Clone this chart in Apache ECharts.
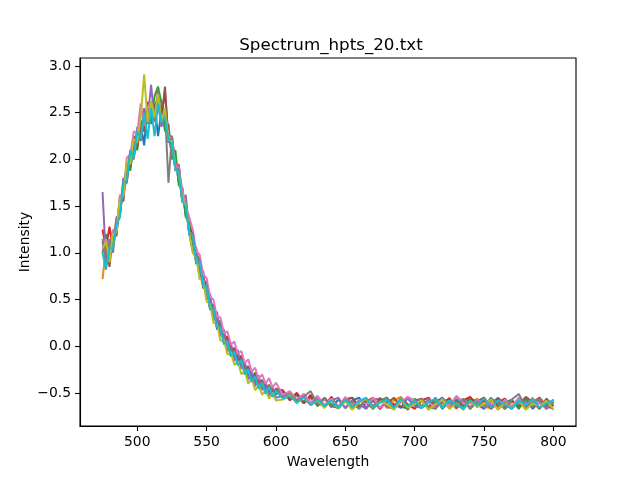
<!DOCTYPE html>
<html>
<head>
<meta charset="utf-8">
<script src="https://cdn.jsdelivr.net/npm/echarts@6/dist/echarts.min.js"></script>
<style>html,body{margin:0;padding:0;background:#fff}#c{width:640px;height:480px}</style>
</head>
<body>
<div id="c"></div>
<script>
const wavelength = [475,477.5,480,482.5,485,487.5,490,492.5,495,497.5,500,502.5,505,507.5,510,512.5,515,517.5,520,522.5,525,527.5,530,532.5,535,537.5,540,542.5,545,547.5,550,552.5,555,557.5,560,562.5,565,567.5,570,572.5,575,577.5,580,582.5,585,587.5,590,592.5,595,597.5,600,
605,610,615,620,625,630,635,640,645,650,655,660,665,670,675,680,685,690,695,700,705,710,715,720,725,730,735,740,745,750,755,760,765,770,775,780,785,790,795,800];

const s1 = [1.12,0.95,1.05,1.23,1.20,1.55,1.62,1.95,1.95,2.20,2.15,2.38,2.15,2.60,2.42,2.60,2.25,2.52,2.35,2.32,2.05,2.02,1.75,1.68,1.40,1.32,1.08,1.04,0.80,0.76,0.55,0.53,0.33,0.30,0.14,0.15,0.00,0.01,-0.12,-0.10,-0.21,-0.19,-0.32,-0.29,-0.39,-0.35,-0.45,-0.41,-0.49,-0.45,-0.51,
-0.48,-0.57,-0.50,-0.60,-0.53,-0.63,-0.56,-0.65,-0.57,-0.66,-0.58,-0.55,-0.66,-0.58,-0.67,-0.56,-0.62,-0.66,-0.55,-0.64,-0.58,-0.67,-0.60,-0.55,-0.66,-0.57,-0.64,-0.55,-0.62,-0.67,-0.57,-0.64,-0.56,-0.66,-0.60,-0.56,-0.67,-0.59,-0.64,-0.57];
const s2 = [0.72,1.05,0.98,1.10,1.35,1.45,1.75,1.80,2.08,2.05,2.30,2.25,2.48,2.40,2.62,2.45,2.58,2.40,2.45,2.20,2.18,1.90,1.85,1.55,1.52,1.22,1.18,0.92,0.90,0.68,0.65,0.42,0.40,0.22,0.20,0.05,0.08,-0.06,-0.05,-0.16,-0.15,-0.26,-0.24,-0.34,-0.33,-0.41,-0.38,-0.46,-0.44,-0.50,-0.47,
-0.55,-0.49,-0.59,-0.51,-0.62,-0.54,-0.64,-0.55,-0.66,-0.56,-0.63,-0.66,-0.56,-0.64,-0.55,-0.66,-0.58,-0.54,-0.65,-0.60,-0.56,-0.66,-0.57,-0.64,-0.55,-0.67,-0.58,-0.61,-0.56,-0.65,-0.66,-0.55,-0.62,-0.67,-0.57,-0.64,-0.55,-0.66,-0.58,-0.64];
const s3 = [1.00,1.20,0.92,1.18,1.22,1.58,1.60,1.95,1.88,2.15,2.10,2.42,2.30,2.50,2.40,2.68,2.78,2.60,2.30,2.38,2.00,2.10,1.72,1.70,1.38,1.35,1.22,0.90,0.97,0.66,0.70,0.39,0.45,0.20,0.28,0.04,0.11,-0.11,-0.02,-0.20,-0.10,-0.29,-0.21,-0.37,-0.28,-0.45,-0.36,-0.51,-0.41,-0.54,-0.45,
-0.50,-0.56,-0.52,-0.60,-0.54,-0.64,-0.56,-0.62,-0.65,-0.55,-0.67,-0.57,-0.60,-0.67,-0.58,-0.55,-0.65,-0.58,-0.68,-0.56,-0.64,-0.57,-0.66,-0.55,-0.64,-0.59,-0.67,-0.56,-0.59,-0.65,-0.55,-0.66,-0.60,-0.57,-0.67,-0.56,-0.64,-0.58,-0.66,-0.60];
const s4 = [1.25,1.05,1.28,1.05,1.30,1.42,1.72,1.78,2.05,2.08,2.28,2.20,2.52,2.38,2.58,2.42,2.62,2.48,2.72,2.22,2.25,1.95,1.92,1.58,1.55,1.25,1.22,0.95,0.92,0.70,0.68,0.45,0.42,0.25,0.22,0.08,0.10,-0.04,-0.02,-0.14,-0.13,-0.24,-0.22,-0.32,-0.30,-0.38,-0.37,-0.45,-0.42,-0.49,-0.46,
-0.47,-0.58,-0.50,-0.61,-0.52,-0.61,-0.64,-0.54,-0.65,-0.57,-0.55,-0.66,-0.59,-0.55,-0.67,-0.58,-0.64,-0.56,-0.62,-0.67,-0.58,-0.55,-0.65,-0.60,-0.56,-0.66,-0.58,-0.54,-0.65,-0.58,-0.67,-0.60,-0.56,-0.65,-0.58,-0.66,-0.60,-0.55,-0.64,-0.67];
const s5 = [1.65,0.92,1.12,1.05,1.38,1.42,1.80,1.78,2.10,2.02,2.35,2.22,2.55,2.42,2.80,2.40,2.62,2.35,2.52,2.18,2.25,1.88,1.95,1.55,1.62,1.20,1.02,1.06,0.73,0.81,0.50,0.56,0.28,0.37,0.11,0.18,-0.06,0.04,-0.16,-0.04,-0.24,-0.16,-0.36,-0.26,-0.43,-0.31,-0.47,-0.38,-0.53,-0.43,-0.55,
-0.53,-0.50,-0.58,-0.53,-0.62,-0.56,-0.64,-0.58,-0.55,-0.66,-0.58,-0.62,-0.67,-0.57,-0.56,-0.65,-0.67,-0.58,-0.56,-0.64,-0.66,-0.56,-0.64,-0.59,-0.66,-0.54,-0.60,-0.65,-0.57,-0.66,-0.61,-0.55,-0.64,-0.66,-0.56,-0.60,-0.65,-0.57,-0.66,-0.59];
const s6 = [1.08,1.12,0.85,1.22,1.18,1.60,1.55,1.95,1.92,2.25,2.12,2.40,2.30,2.62,2.38,2.55,2.68,2.42,2.78,2.18,2.22,1.90,1.88,1.55,1.52,1.20,1.18,0.88,0.92,0.62,0.68,0.40,0.44,0.18,0.24,0.02,0.08,-0.10,-0.02,-0.20,-0.10,-0.30,-0.22,-0.38,-0.30,-0.45,-0.36,-0.49,-0.42,-0.53,-0.46,
-0.49,-0.57,-0.52,-0.61,-0.55,-0.62,-0.55,-0.64,-0.66,-0.57,-0.55,-0.65,-0.59,-0.67,-0.56,-0.61,-0.55,-0.65,-0.66,-0.58,-0.56,-0.65,-0.55,-0.67,-0.59,-0.64,-0.56,-0.67,-0.59,-0.55,-0.65,-0.56,-0.67,-0.59,-0.64,-0.54,-0.60,-0.67,-0.56,-0.64];
const s7 = [1.02,1.15,0.98,1.25,1.22,1.62,1.60,2.02,2.05,2.30,2.28,2.60,2.36,2.55,2.62,2.45,2.58,2.40,2.50,2.25,2.22,1.95,1.90,1.68,1.50,1.38,1.25,1.02,0.98,0.77,0.73,0.53,0.50,0.31,0.31,0.14,0.16,0.02,0.05,-0.08,-0.05,-0.18,-0.14,-0.27,-0.23,-0.35,-0.30,-0.40,-0.34,-0.44,-0.39,
-0.52,-0.48,-0.57,-0.51,-0.60,-0.53,-0.63,-0.56,-0.65,-0.54,-0.66,-0.57,-0.62,-0.55,-0.66,-0.57,-0.67,-0.60,-0.54,-0.58,-0.65,-0.59,-0.67,-0.56,-0.64,-0.53,-0.60,-0.66,-0.57,-0.64,-0.60,-0.67,-0.57,-0.64,-0.55,-0.65,-0.57,-0.61,-0.67,-0.57];
const s8 = [1.15,0.88,1.15,1.00,1.35,1.40,1.72,1.75,2.08,2.00,2.30,2.20,2.48,2.38,2.62,2.42,2.75,2.38,2.52,1.75,2.25,1.88,1.90,1.55,1.55,1.20,1.22,0.92,0.92,0.64,0.66,0.42,0.42,0.20,0.22,0.05,0.06,-0.08,-0.05,-0.18,-0.14,-0.28,-0.24,-0.36,-0.32,-0.43,-0.38,-0.48,-0.42,-0.52,-0.46,
-0.55,-0.51,-0.58,-0.54,-0.48,-0.62,-0.56,-0.63,-0.66,-0.57,-0.60,-0.67,-0.56,-0.64,-0.60,-0.55,-0.67,-0.57,-0.64,-0.60,-0.56,-0.65,-0.67,-0.57,-0.60,-0.65,-0.56,-0.67,-0.59,-0.64,-0.56,-0.60,-0.67,-0.57,-0.51,-0.65,-0.60,-0.56,-0.67,-0.60];
const s9 = [1.05,1.12,0.90,1.20,1.22,1.58,1.62,1.98,1.95,2.22,2.18,2.45,2.91,2.40,2.62,2.45,2.70,2.40,2.55,2.20,2.20,1.90,1.85,1.58,1.52,1.22,1.00,0.95,0.72,0.70,0.48,0.45,0.25,0.24,0.06,0.07,-0.09,-0.06,-0.20,-0.16,-0.30,-0.26,-0.40,-0.35,-0.47,-0.42,-0.52,-0.47,-0.56,-0.50,-0.58,
-0.57,-0.52,-0.61,-0.55,-0.63,-0.58,-0.66,-0.57,-0.67,-0.59,-0.68,-0.60,-0.56,-0.67,-0.59,-0.62,-0.68,-0.57,-0.66,-0.62,-0.58,-0.68,-0.62,-0.57,-0.67,-0.61,-0.68,-0.58,-0.65,-0.62,-0.57,-0.68,-0.61,-0.66,-0.58,-0.68,-0.61,-0.65,-0.58,-0.68];
const s10 = [1.00,0.82,1.05,1.05,1.30,1.38,1.75,1.78,2.10,2.02,2.30,2.22,2.50,2.22,2.55,2.25,2.60,2.40,2.45,2.20,2.18,1.90,1.85,1.55,1.50,1.20,1.18,0.90,0.90,0.65,0.64,0.40,0.40,0.20,0.20,0.03,0.05,-0.10,-0.06,-0.20,-0.15,-0.30,-0.25,-0.38,-0.32,-0.45,-0.39,-0.50,-0.44,-0.54,-0.48,
-0.56,-0.53,-0.60,-0.55,-0.63,-0.57,-0.64,-0.58,-0.66,-0.57,-0.65,-0.59,-0.55,-0.66,-0.60,-0.57,-0.66,-0.56,-0.64,-0.58,-0.66,-0.60,-0.56,-0.66,-0.58,-0.62,-0.67,-0.58,-0.63,-0.56,-0.66,-0.58,-0.62,-0.67,-0.58,-0.63,-0.56,-0.66,-0.61,-0.58];

const allSeries = [s1,s2,s3,s4,s5,s6,s7,s8,s9,s10];
const colors = ['#1f77b4','#ff7f0e','#2ca02c','#d62728','#9467bd','#8c564b','#e377c2','#7f7f7f','#bcbd22','#17becf'];
const xTicks = [500,550,600,650,700,750,800];
const yTicks = [-0.5,0.0,0.5,1.0,1.5,2.0,2.5,3.0];

const FONT = 'DejaVu Sans';
const chart = echarts.init(document.getElementById('c'), null, {renderer:'canvas'});

function isTick(v, list){ return list.some(t => Math.abs(t - v) < 1e-6); }
const axisBase = {
  axisLine:{show:true, onZero:false, lineStyle:{color:'#000', width:1.1}},
  splitLine:{show:false}
};

chart.setOption({
  animation:false,
  color: colors,
  title:{text:'Spectrum_hpts_20.txt', left:326, top:32, textAlign:'center',
    textStyle:{fontFamily:FONT, fontSize:16.7, fontWeight:'normal', color:'#000'}},
  grid:{left:80, right:64, top:58, bottom:54, show:true, borderColor:'#000', borderWidth:1.1, containLabel:false},
  xAxis:Object.assign({type:'value', min:458.75, max:816.25, minInterval:50, maxInterval:50, splitNumber:7,
    name:'Wavelength', nameLocation:'middle', nameGap:29, nameMoveOverlap:false,
    nameTextStyle:{fontFamily:FONT, fontSize:13.9, color:'#000'},
    axisTick:{show:true, inside:false, length:5, customValues:xTicks, lineStyle:{color:'#000', width:1.1}},
    axisLabel:{show:true, margin:9, fontFamily:FONT, fontSize:13.9, color:'#000', customValues:xTicks,
      formatter: v => isTick(v, xTicks) ? String(Math.round(v)) : ''}}, axisBase),
  yAxis:Object.assign({type:'value', min:-0.853, max:3.086, minInterval:0.5, maxInterval:0.5, splitNumber:8,
    name:'Intensity', nameLocation:'middle', nameGap:48, nameRotate:90, nameMoveOverlap:false,
    nameTextStyle:{fontFamily:FONT, fontSize:13.9, color:'#000'},
    axisTick:{show:true, inside:false, length:5, customValues:yTicks, lineStyle:{color:'#000', width:1.1}},
    axisLabel:{show:true, margin:9, fontFamily:FONT, fontSize:13.9, color:'#000', customValues:yTicks,
      formatter: v => isTick(v, yTicks) ? ((v < 0 ? '\u2212' : '') + Math.abs(v).toFixed(1)) : ''}}, axisBase),
  series: allSeries.map((vals, i) => ({
    type:'line', name:'s'+(i+1), showSymbol:false, symbol:'none', z:2+i,
    lineStyle:{width:2, color:colors[i]},
    data: vals.slice(0, wavelength.length).map((v, j) => [wavelength[j], v])
  }))
});
</script>
</body>
</html>
